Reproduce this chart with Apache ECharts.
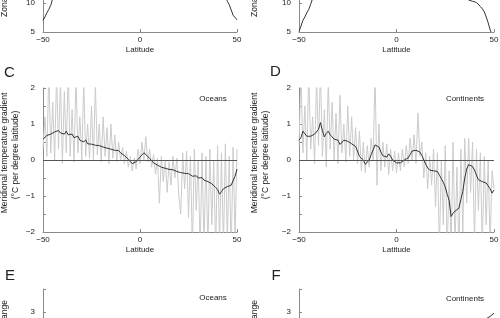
<!DOCTYPE html>
<html>
<head>
<meta charset="utf-8">
<script src="https://cdn.jsdelivr.net/npm/echarts@6/dist/echarts.min.js"></script>
<style>
html, body { margin: 0; padding: 0; background: #fff; }
#chart { width: 500px; height: 318px; }
</style>
</head>
<body>
<div id="chart"></div>
<script>
// latitude grid, 1 degree steps from -50 to 50
let latitudes = [];
for (let d = -50; d <= 50; d++) latitudes.push(d);

// panels A / B (only the bottom of them is inside the picture)
let zonalOceans = [[-50, 7.0], [-49, 7.6], [-48, 8.3], [-47, 8.9], [-46, 9.6], [-45, 10.8], [-44, 12.0], [-40, 15.5], [-30, 21], [-20, 25], [0, 27], [20, 25], [30, 21], [40, 14.5], [44, 11.2], [45, 10.3], [46, 9.7], [47, 8.8], [48, 7.9], [49, 7.5], [50, 7.1]];
let zonalContinents = [[-50, 5.1], [-49, 6.0], [-48, 7.0], [-47, 7.6], [-46, 8.3], [-45, 8.9], [-44, 9.8], [-43, 10.8], [-42, 12.0], [-35, 17], [-20, 25], [0, 27], [20, 24], [30, 16], [35, 11.8], [36, 11.0], [37, 10.5], [38, 10.4], [39, 10.3], [40, 10.2], [41, 10.1], [42, 9.8], [43, 9.4], [44, 9.0], [45, 8.5], [46, 7.6], [47, 6.6], [48, 5.4], [48.5, 5.0]];

// panel C, oceans: raw gradient (grey) and smoothed (black)
let oceansRaw = [
    0.3, 1.2, 0.1, 2.5, 0.2, 1.6, 0.0, 2.4, 0.3, 2.2,
    -0.1, 1.9, 0.2, 2.5, 0.1, 1.4, -0.05, 2.3, 0.2, 1.2,
    0.0, 2.2, 0.1, 1.0, 0.05, 1.5, 0.0, 2.1, 0.15, 1.0,
    -0.05, 1.2, 0.1, 0.9, -0.1, 1.0, 0.05, 0.7, -0.05, 0.5,
    0.0, 0.35, -0.1, 0.25, -0.2, 0.1, -0.3, 0.05, -0.25, 0.3,
    -0.1, 0.5, 0.0, 0.65, -0.05, 0.3, -0.2, 0.15, -0.4, 0.05,
    -1.2, 0.1, -0.6, 0.0, -0.9, -0.05, -0.7, 0.1, -0.5, 0.05,
    -1.0, -1.5, 0.2, -0.8, 0.25, -1.6, 0.1, -2.5, 0.3, -1.4,
    0.0, -2.6, 0.2, -2.4, 0.1, -2.5, 0.3, -1.8, 0.0, -2.6,
    0.4, -2.4, 0.2, -2.5, 0.45, -2.3, 0.1, -2.6, 0.35, -2.2,
    0.3
];
let oceansSmooth = [
    0.58, 0.62, 0.68, 0.66, 0.72, 0.70, 0.78, 0.74, 0.82, 0.75,
    0.78, 0.72, 0.80, 0.70, 0.66, 0.72, 0.62, 0.60, 0.66, 0.55,
    0.58, 0.50, 0.56, 0.45, 0.42, 0.44, 0.40, 0.41, 0.37, 0.40,
    0.38, 0.36, 0.39, 0.33, 0.35, 0.30, 0.32, 0.27, 0.25, 0.26,
    0.20, 0.16, 0.12, 0.08, 0.02, -0.04, -0.10, -0.15, -0.05, 0.02,
    0.08, 0.14, 0.20, 0.16, 0.10, 0.04, -0.02, -0.08, -0.12, -0.14,
    -0.18, -0.20, -0.19, -0.23, -0.22, -0.26, -0.22, -0.27, -0.28, -0.32,
    -0.31, -0.35, -0.34, -0.37, -0.40, -0.38, -0.43, -0.45, -0.47, -0.44,
    -0.50, -0.53, -0.49, -0.56, -0.52, -0.60, -0.58, -0.66, -0.62, -0.76,
    -0.82, -0.95, -0.88, -0.80, -0.84, -0.74, -0.78, -0.70, -0.72, -0.45,
    -0.25
];

// panel D, continents
let continentsRaw = [
    0.4, 2.4, 0.2, 1.5, 0.0, 2.5, 0.3, 1.2, -0.1, 2.3,
    0.4, 2.5, 0.1, 1.4, -0.2, 2.2, 0.3, 1.6, 0.0, 1.3,
    -0.1, 1.8, 0.2, 1.0, -0.05, 1.5, 0.1, 1.2, 0.0, 0.9,
    -0.1, 0.8, -0.3, 0.5, -0.35, 0.4, -0.2, 0.6, 0.0, 2.4,
    -0.7, 1.0, -0.3, 0.5, -0.2, 0.45, -0.4, 0.3, -0.3, 0.25,
    -0.35, 0.2, -0.3, 0.3, -0.2, 0.4, -0.1, 0.6, 0.0, 0.7,
    -0.1, 1.3, 0.1, 0.5, -0.5, 0.2, -0.8, 0.1, -0.7, 0.3,
    -1.3, 0.2, -2.5, 0.0, -1.8, 0.4, -2.6, -0.3, -2.5, 0.5,
    -2.4, -0.2, -2.6, 0.3, -2.0, 0.6, -1.2, 0.6, -0.9, 0.5,
    -2.3, 0.3, -1.4, 0.2, -2.5, 0.1, -1.8, 0.0, -2.4, -0.3,
    -0.8
];
let continentsSmooth = [
    0.55, 0.62, 0.80, 0.76, 0.66, 0.68, 0.66, 0.70, 0.72, 0.68,
    0.85, 1.04, 0.82, 0.64, 0.74, 0.80, 0.70, 0.64, 0.58, 0.62,
    0.55, 0.43, 0.48, 0.55, 0.56, 0.52, 0.48, 0.45, 0.45, 0.38,
    0.25, 0.10, 0.14, 0.0, -0.12, -0.08, 0.0, 0.15, 0.28, 0.42,
    0.44, 0.36, 0.22, 0.12, 0.08, 0.08, 0.17, 0.10, 0.0, -0.05,
    -0.08, -0.10, -0.08, -0.03, 0.0, 0.03, 0.06, 0.15, 0.25, 0.22,
    0.27, 0.30, 0.22, 0.13, 0.0, -0.12, -0.22, -0.28, -0.28, -0.30,
    -0.31, -0.32, -0.42, -0.52, -0.62, -0.75, -0.95, -1.12, -1.57, -1.48,
    -1.42, -1.40, -1.34, -1.10, -0.87, -0.50, -0.25, -0.13, -0.12, -0.18,
    -0.28, -0.42, -0.55, -0.59, -0.60, -0.62, -0.64, -0.72, -0.80, -0.92,
    -0.83
];

// panel F (only a short piece shows at the bottom edge)
let changeContinents = [[40, 2.3], [42, 2.45], [44, 2.6], [45, 2.7], [46, 2.85], [47, 2.88], [48, 2.9], [49, 2.94], [50, 2.97]];

let xTicks = { min: -50, max: 50, interval: 50 };

function pairs(values) {
    return values.map((v, i) => [latitudes[i], v]);
}

function minus(v) {
    return v < 0 ? '\u2212' + Math.abs(v) : String(v);
}

const FONT = '"Liberation Sans", Arial, sans-serif';
const TXT = '#222';
const AXIS = '#8a8a8a';

let grids = [
    { left: 43, width: 194, top: -113, height: 145 },
    { left: 299, width: 195, top: -113, height: 145 },
    { left: 43, width: 194, top: 88, height: 144 },
    { left: 299, width: 195, top: 88, height: 144 },
    { left: 43, width: 194, top: 289, height: 160 },
    { left: 299, width: 195, top: 289, height: 160 }
].map(g => Object.assign(g, { containLabel: false, outerBoundsMode: 'none' }));

let xAxes = grids.map((g, i) => ({
    gridIndex: i,
    type: 'value',
    min: xTicks.min,
    max: xTicks.max,
    interval: xTicks.interval,
    name: 'Latitude',
    nameLocation: 'middle',
    nameGap: 14,
    nameTextStyle: { fontFamily: FONT, fontSize: 8, color: TXT },
    axisLine: { show: true, onZero: false, lineStyle: { color: AXIS, width: 1 } },
    axisTick: { show: true, inside: true, length: 3, lineStyle: { color: AXIS } },
    axisLabel: { margin: 4, fontFamily: FONT, fontSize: 8, color: TXT, formatter: minus },
    splitLine: { show: false }
}));

function yAxis(i, min, max, interval, onlyInt) {
    return {
        gridIndex: i,
        type: 'value',
        min: min,
        max: max,
        interval: interval,
        axisLine: { show: true, onZero: false, lineStyle: { color: AXIS, width: 1 } },
        axisTick: { show: true, inside: true, length: 3, lineStyle: { color: AXIS } },
        axisLabel: {
            margin: 8, fontFamily: FONT, fontSize: 8, color: TXT,
            formatter: v => (onlyInt && v % 1 !== 0) ? '' : minus(v)
        },
        splitLine: { show: false }
    };
}

let yAxes = [
    yAxis(0, 5, 30, 5, false),
    yAxis(1, 5, 30, 5, false),
    yAxis(2, -2, 2, 0.5, true),
    yAxis(3, -2, 2, 0.5, true),
    yAxis(4, 0, 3.5, 0.5, true),
    yAxis(5, 0, 3.5, 0.5, true)
];

let zeroLine = {
    silent: true,
    symbol: ['none', 'none'],
    label: { show: false },
    lineStyle: { color: '#555', type: 'solid', width: 1 },
    data: [{ yAxis: 0 }]
};

function line(i, data, color, extra) {
    return Object.assign({
        type: 'line',
        xAxisIndex: i,
        yAxisIndex: i,
        data: data,
        showSymbol: false,
        symbol: 'none',
        clip: true,
        lineStyle: { color: color, width: 1 },
        animation: false
    }, extra || {});
}

function text(str, x, y, opts) {
    return {
        type: 'text',
        x: x,
        y: y,
        rotation: opts.rotation || 0,
        style: {
            text: str,
            fill: TXT,
            fontFamily: FONT,
            fontSize: opts.size || 8,
            align: opts.align || 'center',
            verticalAlign: 'middle'
        }
    };
}

const UP = Math.PI / 2;

let option = {
    backgroundColor: '#fff',
    animation: false,
    grid: grids,
    xAxis: xAxes,
    yAxis: yAxes,
    series: [
        line(0, zonalOceans, '#333'),
        line(1, zonalContinents, '#333'),
        line(2, pairs(oceansRaw), '#cbcbcb'),
        line(2, pairs(oceansSmooth), '#333', { markLine: zeroLine, z: 3 }),
        line(3, pairs(continentsRaw), '#cbcbcb'),
        line(3, pairs(continentsSmooth), '#333', { markLine: zeroLine, z: 3 }),
        line(5, changeContinents, '#333')
    ],
    graphic: [
        text('Zonal mean temperature (\u00b0C)', 5, 17, { rotation: UP, align: 'left', size: 8.5 }),
        text('Zonal mean temperature (\u00b0C)', 255, 17, { rotation: UP, align: 'left', size: 8.5 }),
        text('C', 4, 73, { align: 'left', size: 15 }),
        text('D', 270, 72, { align: 'left', size: 15 }),
        text('Meridional temperature gradient', 5, 153, { rotation: UP, size: 8.5 }),
        text('(\u00b0C per degree latitude)', 15.5, 155, { rotation: UP, size: 8.5 }),
        text('Meridional temperature gradient', 255, 153, { rotation: UP, size: 8.5 }),
        text('(\u00b0C per degree latitude)', 265.5, 155, { rotation: UP, size: 8.5 }),
        text('Oceans', 213, 99, { size: 8 }),
        text('Continents', 465, 99, { size: 8 }),
        text('E', 5, 275.5, { align: 'left', size: 15 }),
        text('F', 271.5, 275.5, { align: 'left', size: 15 }),
        text('Temperature change', 5, 300, { rotation: UP, align: 'right', size: 8.5 }),
        text('Temperature change', 255, 300, { rotation: UP, align: 'right', size: 8.5 }),
        text('Oceans', 213, 297.5, { size: 8 }),
        text('Continents', 465, 299, { size: 8 })
    ]
};

let chart = echarts.init(document.getElementById('chart'), null, { renderer: 'canvas' });
chart.setOption(option);
</script>
</body>
</html>
